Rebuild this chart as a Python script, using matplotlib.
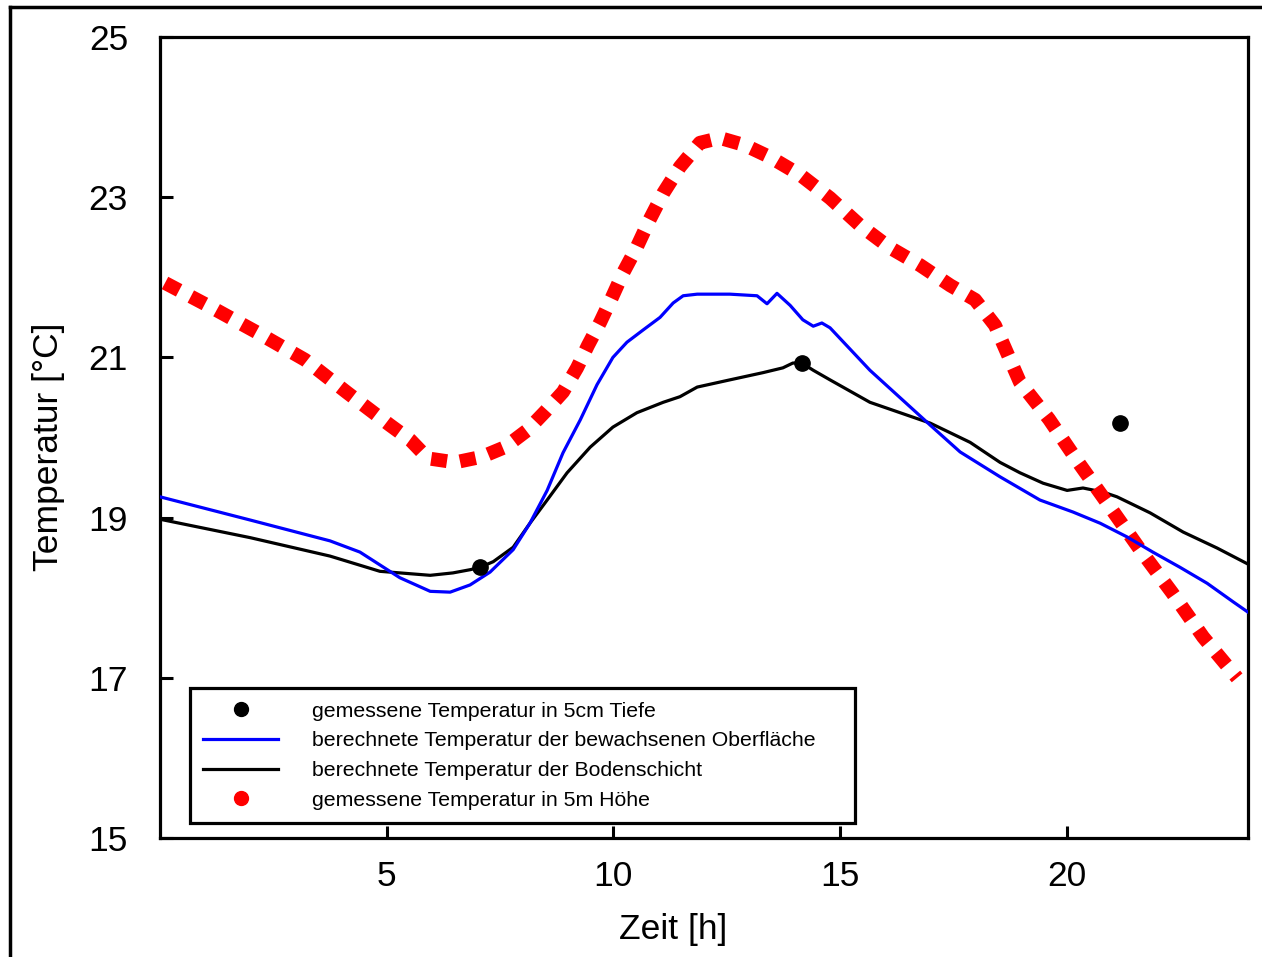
import matplotlib
matplotlib.use("Agg")
import matplotlib.pyplot as plt
from matplotlib.lines import Line2D

plt.rcParams['font.family'] = ['Liberation Sans', 'DejaVu Sans']

# gemessene Temperatur in 5m Hoehe (rot, gepunktet)
red_t = [0.11, 1.15, 2.18, 3.2, 4.13, 5.06, 5.52, 5.91, 6.51, 7.10, 7.61, 8.10, 8.49,
         8.89, 9.2, 9.44, 9.71, 9.97, 10.21, 10.52, 10.8, 11.1, 11.47, 11.91, 12.35,
         12.9, 13.46, 14.12, 14.78, 15.44, 16.1, 16.77, 17.43, 17.98, 18.42, 18.97,
         19.61, 20.27, 20.96, 21.62, 22.33, 23.01, 23.76]
red_T = [21.93, 21.62, 21.30, 20.97, 20.56, 20.16, 19.97, 19.74, 19.69, 19.76, 19.88,
         20.09, 20.32, 20.57, 20.87, 21.15, 21.44, 21.75, 22.05, 22.38, 22.72, 23.05,
         23.38, 23.68, 23.74, 23.65, 23.5, 23.28, 22.99, 22.65, 22.37, 22.15, 21.9,
         21.72, 21.4, 20.69, 20.23, 19.68, 19.13, 18.60, 18.06, 17.51, 17.0]

# berechnete Temperatur der bewachsenen Oberflaeche (blau)
blue_t = [0, 1.99, 3.75, 4.41, 4.85, 5.29, 5.96, 6.40, 6.84, 7.28, 7.79, 8.16, 8.54,
          8.89, 9.27, 9.64, 9.99, 10.3, 10.65, 11.03, 11.32, 11.54, 11.85, 12.57, 13.17,
          13.39, 13.61, 13.9, 14.18, 14.41, 14.6, 14.78, 15.66, 17.0, 17.65, 18.53,
          19.41, 20.14, 20.74, 21.33, 21.9, 22.5, 23.1, 23.67, 24.0]
blue_T = [19.26, 18.97, 18.71, 18.57, 18.41, 18.25, 18.08, 18.07, 18.16, 18.32, 18.60,
          18.93, 19.34, 19.81, 20.22, 20.66, 21.0, 21.19, 21.34, 21.50, 21.68, 21.77,
          21.79, 21.79, 21.77, 21.67, 21.80, 21.65, 21.47, 21.39, 21.43, 21.37, 20.84,
          20.15, 19.82, 19.51, 19.22, 19.07, 18.93, 18.76, 18.57, 18.38, 18.18, 17.95,
          17.82]

# berechnete Temperatur der Bodenschicht (schwarz)
soil_t = [0, 1.99, 3.75, 4.85, 5.96, 6.46, 6.84, 7.06, 7.35, 7.79, 8.16, 8.54, 8.98,
          9.49, 9.99, 10.52, 11.1, 11.47, 11.85, 12.57, 13.3, 13.74, 13.96, 14.16, 14.41,
          14.78, 15.66, 16.99, 17.87, 18.53, 18.97, 19.48, 20.01, 20.36, 20.8, 21.11,
          21.84, 22.57, 23.32, 24.0]
soil_T = [18.98, 18.75, 18.52, 18.33, 18.28, 18.31, 18.35, 18.38, 18.45, 18.63, 18.93,
          19.22, 19.56, 19.88, 20.13, 20.31, 20.44, 20.51, 20.63, 20.72, 20.81, 20.87,
          20.93, 20.93, 20.84, 20.72, 20.44, 20.18, 19.94, 19.69, 19.56, 19.43, 19.34,
          19.37, 19.32, 19.26, 19.06, 18.82, 18.62, 18.42]

# gemessene Temperatur in 5cm Tiefe (schwarze Punkte)
meas_t = [7.06, 14.16, 21.18]
meas_T = [18.38, 20.93, 20.18]

labels = ['gemessene Temperatur in 5cm Tiefe',
          'berechnete Temperatur der bewachsenen Oberfläche',
          'berechnete Temperatur der Bodenschicht',
          'gemessene Temperatur in 5m Höhe']

fig = plt.figure(figsize=(12.62, 9.57), dpi=100)
ax = fig.add_axes([0.1268, 0.1243, 0.8621, 0.8370])

ax.plot(soil_t, soil_T, color='black', lw=2.3, zorder=3)
ax.plot(red_t, red_T, color='red', lw=10, dashes=(1.15, 0.95),
        dash_capstyle='butt', zorder=4)
ax.plot(blue_t, blue_T, color='blue', lw=2.3, zorder=5)
ax.plot(meas_t, meas_T, 'o', color='black', markersize=11, zorder=6)

ax.set_xlim(0, 24)
ax.set_ylim(15, 25)
ax.set_xticks([5, 10, 15, 20])
ax.set_yticks([15, 17, 19, 21, 23, 25])
ax.tick_params(axis='both', direction='in', length=9, width=2.2, labelsize=25.5)
ax.tick_params(axis='x', pad=16)
ax.tick_params(axis='y', pad=23)
for s in ax.spines.values():
    s.set_linewidth(2.3)

ax.set_xlabel('Zeit [h]', fontsize=25.5)
ax.set_ylabel('Temperatur [°C]', fontsize=25.5)
ax.xaxis.set_label_coords(0.472, -0.094)
ax.yaxis.set_label_coords(-0.087, 0.489)

handles = [Line2D([], [], marker='o', color='black', linestyle='none', markersize=10),
           Line2D([], [], color='blue', lw=2.3),
           Line2D([], [], color='black', lw=2.3),
           Line2D([], [], marker='o', color='red', linestyle='none', markersize=10)]
leg = ax.legend(handles, labels, loc='lower left',
                bbox_to_anchor=(0.0276, 0.0187, 0.611, 0.17), mode='expand',
                borderaxespad=0, fontsize=15.3, fancybox=False, framealpha=1,
                edgecolor='black', handlelength=3.5, handletextpad=1.6,
                labelspacing=0.5, borderpad=0.63)
leg.get_frame().set_linewidth(2.3)

# outer frame lines of the figure
fig.add_artist(Line2D([0.0079, 0.0079], [0, 0.9927], color='black', lw=2.5,
                      transform=fig.transFigure))
fig.add_artist(Line2D([0.0079, 1], [0.9927, 0.9927], color='black', lw=2.5,
                      transform=fig.transFigure))

fig.savefig('out.png', dpi=100)
